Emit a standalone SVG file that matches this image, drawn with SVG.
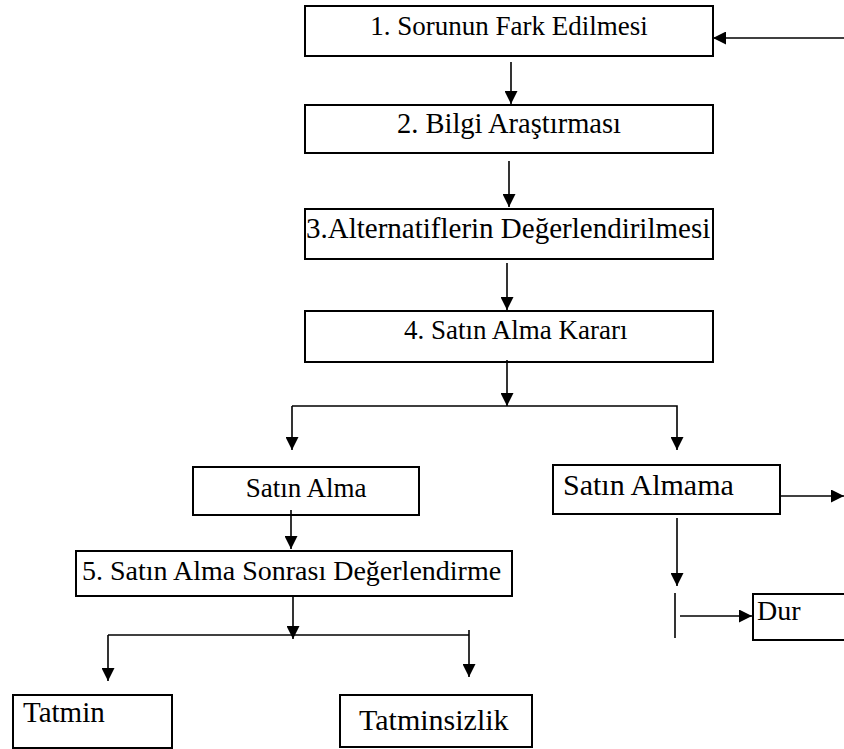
<svg xmlns="http://www.w3.org/2000/svg" width="844" height="749" viewBox="0 0 844 749">
<style>
.box{fill:#fff;stroke:#000;stroke-width:2}
text{font-family:'Liberation Serif','Times New Roman','DejaVu Serif',serif;font-size:27px;fill:#000}
.c{fill:none;stroke:#000;stroke-width:1.6}
</style>
<defs>
<marker id="ah" markerUnits="userSpaceOnUse" markerWidth="13" markerHeight="13" refX="13" refY="6.5" orient="auto">
<path d="M0,0 L13,6.5 L0,13 z" fill="#000"/>
</marker>
</defs>
<rect width="844" height="749" fill="#fff"/>
<g id="n1"><rect class="box" x="305" y="6" width="408" height="50"/><text x="509" y="35" text-anchor="middle">1. Sorunun Fark Edilmesi</text></g>
<g id="n2"><rect class="box" x="305" y="105" width="408" height="48"/><text x="509" y="133" text-anchor="middle" style="font-size:28.5px">2. Bilgi Araştırması</text></g>
<g id="n3"><rect class="box" x="305" y="209" width="408" height="50"/><text x="306" y="238" style="font-size:29px">3.Alternatiflerin Değerlendirilmesi</text></g>
<g id="n4"><rect class="box" x="305" y="311" width="408" height="51"/><text x="404" y="339">4. Satın Alma Kararı</text></g>
<g id="n5"><rect class="box" x="193" y="467" width="226" height="48"/><text x="306" y="497" text-anchor="middle">Satın Alma</text></g>
<g id="n6"><rect class="box" x="553" y="465" width="227" height="49"/><text x="563" y="495" style="font-size:30px">Satın Almama</text></g>
<g id="n7"><rect class="box" x="76" y="551" width="436" height="45"/><text x="82" y="580" style="font-size:28px">5. Satın Alma Sonrası Değerlendirme</text></g>
<g id="n8"><rect class="box" x="753" y="594" width="100" height="46"/><text x="757" y="620" style="font-size:28px">Dur</text></g>
<g id="n9"><rect class="box" x="13" y="695" width="159" height="53"/><text x="23" y="722" style="font-size:29px">Tatmin</text></g>
<g id="n10"><rect class="box" x="340" y="695" width="192" height="52"/><text x="359" y="730" style="font-size:30px">Tatminsizlik</text></g>
<g id="connectors">
<line class="c" x1="844" y1="38" x2="713" y2="38" marker-end="url(#ah)"/>
<line class="c" x1="511" y1="62" x2="511" y2="104" marker-end="url(#ah)"/>
<line class="c" x1="509" y1="161" x2="509" y2="207" marker-end="url(#ah)"/>
<line class="c" x1="507" y1="263" x2="507" y2="310" marker-end="url(#ah)"/>
<line class="c" x1="507" y1="360" x2="507" y2="406" marker-end="url(#ah)"/>
<polyline class="c" points="292,406 677,406 677,450" marker-end="url(#ah)"/>
<line class="c" x1="292" y1="406" x2="292" y2="450" marker-end="url(#ah)"/>
<line class="c" x1="291" y1="510" x2="291" y2="549" marker-end="url(#ah)"/>
<line class="c" x1="293" y1="596" x2="293" y2="639" marker-end="url(#ah)"/>
<line class="c" x1="108" y1="635" x2="469" y2="635"/>
<line class="c" x1="108" y1="635" x2="108" y2="681" marker-end="url(#ah)"/>
<line class="c" x1="469" y1="630" x2="469" y2="677" marker-end="url(#ah)"/>
<line class="c" x1="780" y1="496" x2="844" y2="496" marker-end="url(#ah)"/>
<line class="c" x1="677" y1="518" x2="677" y2="586" marker-end="url(#ah)"/>
<line class="c" x1="675" y1="593" x2="675" y2="638"/>
<line class="c" x1="680" y1="616" x2="752" y2="616" marker-end="url(#ah)"/>
</g>
</svg>
